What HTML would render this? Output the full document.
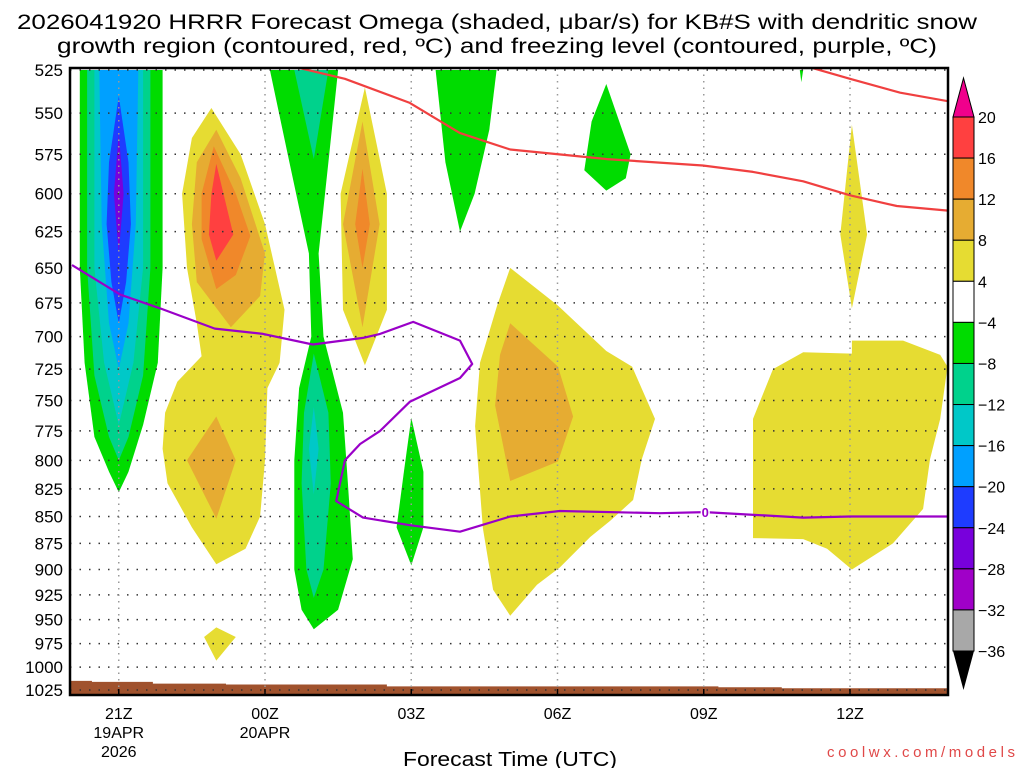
<!DOCTYPE html>
<html><head><meta charset="utf-8"><style>
body{margin:0;background:#fff;}
svg{display:block;font-family:"Liberation Sans","DejaVu Sans",sans-serif;}
</style></head><body>
<svg id="chart" width="1024" height="768" viewBox="0 0 1024 768" xmlns="http://www.w3.org/2000/svg">
<text x="497" y="29" font-size="21" text-anchor="middle" textLength="960" lengthAdjust="spacingAndGlyphs">2026041920 HRRR Forecast Omega (shaded, μbar/s) for KB#S with dendritic snow</text>
<text x="497" y="53" font-size="21" text-anchor="middle" textLength="880" lengthAdjust="spacingAndGlyphs">growth region (contoured, red, ºC) and freezing level (contoured, purple, ºC)</text>
<g id="plot"></g>
<g id="axes"></g>
<g id="cbar"></g>
<text x="510" y="766" font-size="20" text-anchor="middle" textLength="214" lengthAdjust="spacingAndGlyphs">Forecast Time (UTC)</text>
<text x="1015" y="757" font-size="15" fill="#e04848" text-anchor="end" textLength="188" lengthAdjust="spacing">coolwx.com/models</text>
</svg>
<script>
// ---- data (t = hours since 20Z, p = hPa) ----
const pLevels=[525,550,575,600,625,650,675,700,725,750,775,800,825,850,875,900,925,950,975,1000,1025];
const xTickHours=[1,4,7,10,13,16];
const xTickLabels=[["21Z","19APR","2026"],["00Z","20APR"],["03Z"],["06Z"],["09Z"],["12Z"]];
const cbLevels=[20,16,12,8,4,-4,-8,-12,-16,-20,-24,-28,-32,-36];
const cbColors=["#ff4040","#f0882a","#e6ac32","#e6dc32","#ffffff","#00dc00","#00d28c","#00c8c8","#00a0ff","#1e3cff","#7800dc","#a000c8","#a8a8a8"];
const blobs=[
 [5,[[0.2,525],[0.2,650],[0.3,720],[0.5,780],[0.8,810],[1.0,828],[1.2,810],[1.5,770],[1.8,720],[1.9,650],[1.9,525]]],
 [6,[[0.35,525],[0.35,650],[0.5,730],[0.8,780],[1.0,800],[1.2,780],[1.5,730],[1.65,650],[1.65,525]]],
 [7,[[0.5,525],[0.5,650],[0.7,720],[1.0,770],[1.3,720],[1.5,650],[1.5,525]]],
 [8,[[0.6,525],[0.65,620],[0.8,690],[1.0,725],[1.2,690],[1.35,620],[1.4,525]]],
 [9,[[1.0,540],[0.8,580],[0.75,620],[0.85,660],[1.0,690],[1.15,660],[1.25,620],[1.2,580]]],
 [10,[[1.0,562],[0.9,600],[1.0,640],[1.1,600]]],
 [3,[[2.9,547],[3.5,575],[4.0,620],[4.4,680],[4.3,720],[4.05,740],[4.0,800],[3.9,850],[3.6,880],[3.0,895],[2.5,860],[2.0,820],[1.9,790],[1.95,760],[2.2,735],[2.7,715],[2.6,690],[2.4,650],[2.3,600],[2.5,565]]],
 [2,[[3.0,560],[3.5,590],[4.0,640],[3.9,670],[3.3,693],[2.6,660],[2.5,620],[2.6,580]]],
 [1,[[2.95,570],[3.4,600],[3.7,628],[3.4,655],[3.0,665],[2.7,630],[2.7,600]]],
 [0,[[3.0,581],[3.35,627],[3.0,645],[2.85,627],[2.9,600]]],
 [2,[[3.0,763],[3.4,800],[3.0,852],[2.4,800]]],
 [3,[[3.0,958],[3.4,968],[3.0,993],[2.75,968]]],
 [5,[[4.1,525],[4.5,580],[4.9,640],[4.95,700],[4.7,740],[4.6,800],[4.6,900],[4.75,940],[5.0,960],[5.5,940],[5.8,890],[5.7,820],[5.6,760],[5.2,700],[5.1,640],[5.3,580],[5.5,525]]],
 [6,[[4.6,525],[5.0,578],[5.3,525]]],
 [6,[[5.0,713],[4.8,760],[4.75,820],[4.85,900],[5.0,928],[5.2,900],[5.35,820],[5.3,760]]],
 [7,[[5.0,755],[5.1,790],[5.0,830],[4.9,790]]],
 [3,[[6.05,535],[6.5,600],[6.5,680],[6.05,722],[5.6,680],[5.55,600]]],
 [2,[[6.0,555],[6.35,620],[6.0,693],[5.6,620]]],
 [1,[[6.0,584],[6.15,620],[6.0,650],[5.85,620]]],
 [5,[[7.0,764],[7.25,810],[7.25,860],[7.0,896],[6.7,860],[6.85,810]]],
 [5,[[7.5,525],[8.75,525],[8.6,560],[8.3,600],[8.0,625],[7.7,580]]],
 [5,[[11.0,533],[11.5,575],[11.4,590],[11.0,598],[10.55,585],[10.7,555]]],
 [3,[[9.03,650],[10.01,677],[11.0,711],[11.53,723],[12.0,765],[11.73,799],[11.55,835],[11.08,854],[10.67,869],[10.05,898],[9.58,915],[9.03,946],[8.68,920],[8.47,861],[8.31,771],[8.41,720],[8.76,677]]],
 [2,[[9.03,690],[10.01,723],[10.32,763],[10.01,801],[9.03,818],[8.72,754],[8.82,714]]],
 [3,[[14.01,765],[14.42,725],[15.04,712],[16.04,713],[16.04,703],[17.09,703],[17.85,714],[18.0,723],[17.85,765],[17.64,799],[17.5,843],[16.88,875],[16.04,900],[15.53,880],[15.04,871],[14.01,870]]],
 [3,[[16.04,557],[16.35,627],[16.04,679],[15.8,627]]],
 [5,[[14.97,525],[15.04,525],[15.0,532]]]
];
const redLine1=[[4.72,524],[5.64,530],[6.97,544],[8.0,562],[9.03,572],[11.02,578],[12.98,582],[14.01,586],[15.04,592],[16.0,601],[16.96,608],[18.01,611]];
const redLine2=[[15.24,524],[16.0,530],[17.03,538],[18.01,543]];
const freezeLine=[[0.04,648],[1.03,669],[1.85,679],[2.97,694],[3.96,698],[4.98,706],[6.01,701],[6.36,698],[7.04,689],[8.0,703],[8.25,721],[8.0,732],[6.97,751],[6.36,775],[5.95,786],[5.64,800],[5.46,836],[6.01,851],[6.97,858],[8.0,864],[9.03,850],[10.05,845],[12.1,847],[13.03,846],[15.04,851],[16.0,850],[18.0,850]];
const terrainT=[0,0.45,1.7,3.2,6.5,13.3,14.6,18];
const terrainP=[1015,1016,1018,1019,1021,1022,1023,1024];

const X0=70,X1=948,Y0=68,Y1=695;
const xs=t=>70+t*48.75;
const ys=p=>70+Math.log(p/525)/Math.log(1025/525)*620;
const NS="http://www.w3.org/2000/svg";
function mk(tag,attrs,parent){const e=document.createElementNS(NS,tag);for(const k in attrs)e.setAttribute(k,attrs[k]);parent.appendChild(e);return e;}
const plot=document.getElementById('plot'),axes=document.getElementById('axes'),cbar=document.getElementById('cbar');
const pts=a=>a.map(d=>xs(d[0]).toFixed(1)+","+ys(d[1]).toFixed(1)).join(" ");

const clip=mk('clipPath',{id:'pc'},plot);mk('rect',{x:X0,y:Y0,width:X1-X0,height:Y1-Y0},clip);
const g=mk('g',{'clip-path':'url(#pc)'},plot);
blobs.forEach((b,i)=>{
 const el=mk('polygon',{points:pts(b[1]),fill:cbColors[b[0]]},g);
 
 
});
let tp=[];
terrainT.forEach((t,i)=>{const x0=xs(t),x1=xs(i<terrainT.length-1?terrainT[i+1]:18.2),y=ys(terrainP[i]);tp.push(x0+","+y,x1+","+y);});
const terr=mk('polygon',{points:tp.join(" ")+" "+xs(18.2)+","+Y1+" "+X0+","+Y1,fill:"#a0522d"},g);


pLevels.forEach(p=>{
 const l=mk('line',{x1:X0,x2:X1,y1:ys(p),y2:ys(p),stroke:"#333",'stroke-width':1.5,'stroke-dasharray':"1.5,8"},g);
 
 
});
xTickHours.forEach(t=>{
 const l=mk('line',{x1:xs(t),x2:xs(t),y1:Y0,y2:Y1,stroke:"#999",'stroke-width':1.5,'stroke-dasharray':"1.5,5"},g);
 
 
});
[[redLine1,"#f04040","dgz-line-1"],[redLine2,"#f04040","dgz-line-2"],[freezeLine,"#9a00c8","freezing-level-line"]].forEach(s=>{
 const l=mk('polyline',{points:pts(s[0]),fill:"none",stroke:s[1],'stroke-width':2.2,'stroke-linejoin':"round"},g);
 
 
});
const zl=mk('text',{x:xs(13.03),y:ys(846)+5,'font-size':13,'font-weight':'bold',fill:"#9a00c8",'text-anchor':'middle',stroke:'#fff','stroke-width':3,'paint-order':'stroke'},g);
zl.textContent="0";


const fr=mk('rect',{x:X0,y:Y0,width:X1-X0,height:Y1-Y0,fill:"none",stroke:"#000",'stroke-width':2.5},axes);


pLevels.forEach(p=>{
 const t=mk('text',{x:63,y:ys(p)+6,'font-size':17,'text-anchor':'end'},axes);
 t.textContent=p;
 
 
});
xTickHours.forEach((h,i)=>{
 mk('line',{x1:xs(h),x2:xs(h),y1:Y1-6,y2:Y1,stroke:"#000",'stroke-width':1.5},axes);
 xTickLabels[i].forEach((s,j)=>{
  const t=mk('text',{x:xs(h),y:719+j*19,'font-size':16,'text-anchor':'middle'},axes);
  t.textContent=s;
  
  
 });
});
const cx=953,cw=21,cTop=117,cStep=(651-117)/13;
const tri1=mk('polygon',{points:`${cx},${cTop} ${cx+cw},${cTop} ${cx+cw/2},78`,fill:"#f0008c",stroke:"#000"},cbar);


cbColors.forEach((c,i)=>{
 const r=mk('rect',{x:cx,y:cTop+i*cStep,width:cw,height:cStep,fill:c,stroke:"#000",'stroke-width':1},cbar);
 
 
});
const tri2=mk('polygon',{points:`${cx},651 ${cx+cw},651 ${cx+cw/2},690`,fill:"#000"},cbar);


cbLevels.forEach((v,i)=>{
 const t=mk('text',{x:978,y:cTop+i*cStep+6,'font-size':16},cbar);
 t.textContent=v<0?"−"+(-v):v;
 
 
});
</script>
</body></html>
